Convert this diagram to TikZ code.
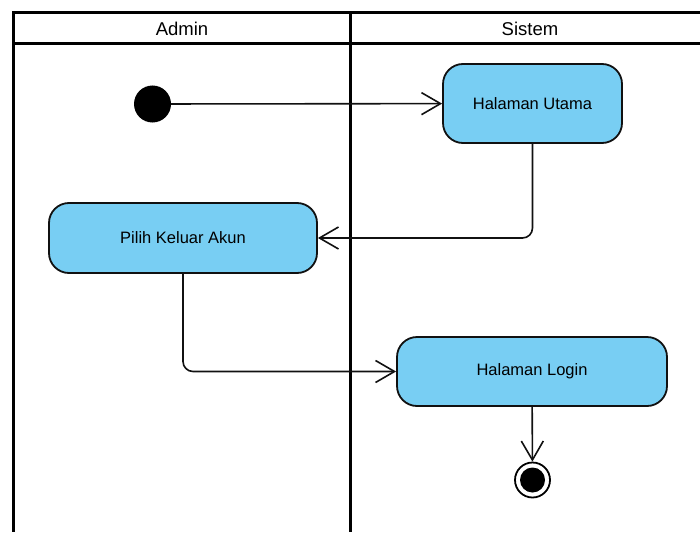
\documentclass[tikz,border=0pt]{standalone}
\usepackage{fontspec}
\setmainfont{Liberation Sans}
\usepackage{tikz}
\usetikzlibrary{arrows.meta,positioning}
\definecolor{skyfill}{HTML}{78CEF3}
\definecolor{inkline}{HTML}{111111}
\tikzset{
  actbox/.style={
    rectangle, rounded corners=20pt, draw=inkline, fill=skyfill,
    line width=1.8pt, inner sep=0pt,
    font=\fontsize{16.5}{19}\selectfont
  },
  flowline/.style={
    -{Straight Barb[length=19pt, width=22pt, line width=1.6pt]},
    line width=1.6pt, rounded corners=10pt, color=inkline
  },
  lanetitle/.style={
    font=\fontsize{18.5}{22}\selectfont
  },
  laneline/.style={line width=3pt, color=black},
  startdot/.style={
    circle, fill=black, minimum size=37pt, inner sep=0pt
  },
  enddot/.style={
    circle, draw=black, line width=1.8pt, minimum size=35pt, inner sep=0pt,
    path picture={\fill[black] (path picture bounding box.center) circle (12.5pt);}
  },
}
\begin{document}
\begin{tikzpicture}[x=1pt,y=-1pt]
  \useasboundingbox (0,0) rectangle (700,532);

  % Swimlanes
  \draw[laneline] (700,13) -- (13,13) -- (13,532);
  \draw[laneline] (13,44) -- (700,44);
  \draw[laneline] (350,13) -- (350,532);
  \node[lanetitle] (admin) at (182,28.5) {Admin};
  \node[lanetitle] (sistem) at (530,28.5) {Sistem};

  % Activities
  \node[startdot] (init) at (152.5,104) {};
  \node[actbox, minimum width=179pt, minimum height=79pt] (utama) at (532.5,103.5) {Halaman Utama};
  \node[actbox, minimum width=268pt, minimum height=70pt] (pilih) at (183,238) {Pilih Keluar Akun};
  \node[actbox, minimum width=270pt, minimum height=69pt] (login) at (532,371.5) {Halaman Login};
  \node[enddot] (final) at (532.5,480) {};

  % Flow
  \draw[flowline] (init) -- (utama);
  \draw[flowline] (utama.south) |- (pilih.east);
  \draw[flowline] (pilih.south) |- (login.west);
  \draw[flowline] (login) -- (final);
\end{tikzpicture}
\end{document}
